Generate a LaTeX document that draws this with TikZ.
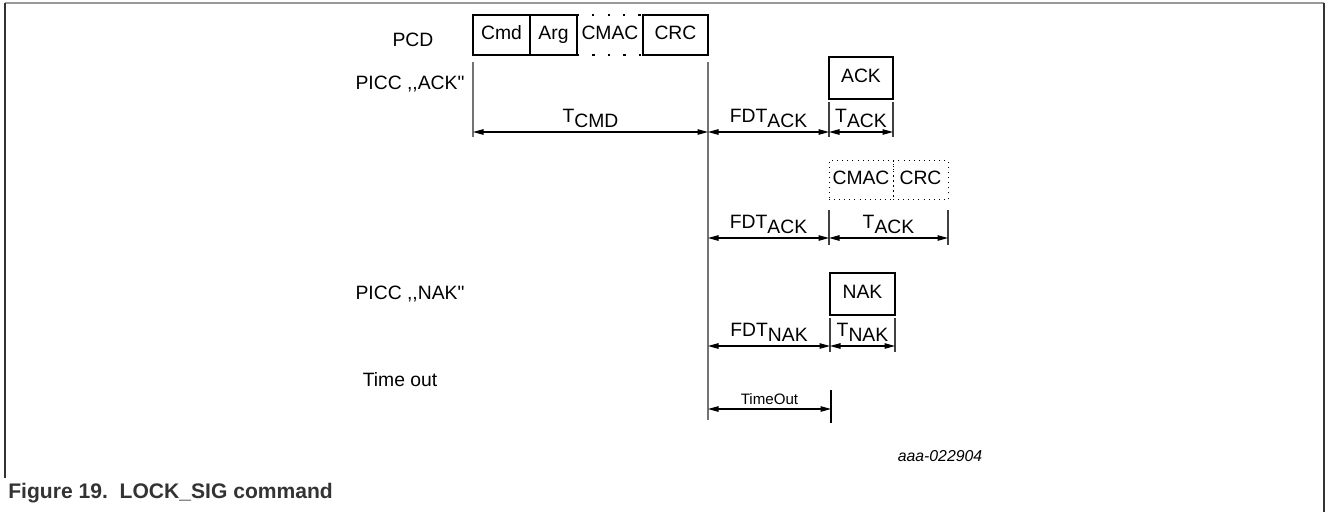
\documentclass[tikz,border=0pt]{standalone}
\usepackage{fontspec}
\setmainfont{Liberation Sans}
\newfontfamily\rawfont{Liberation Sans}
\usetikzlibrary{arrows.meta,positioning}
\newcommand{\lowsub}[1]{\raisebox{-0.55ex}{#1}}

\begin{document}
\begin{tikzpicture}[
  x=0.02cm, y=-0.02cm,
  font=\fontsize{11}{13}\selectfont,
  frm/.style={draw, line width=1.1pt, minimum height=0.8cm, inner sep=0pt, outer sep=0pt,
              text height=0.7em, text depth=0.22em},
  dotfrm/.style={draw, line width=1.3pt, dash pattern=on 1.3pt off 7.5pt,
                 minimum height=0.8cm, inner sep=0pt, outer sep=0pt,
                 text height=0.7em, text depth=0.22em},
  fine/.style={draw, line width=0.5pt, dash pattern=on 0.5pt off 2.4pt,
               minimum height=0.78cm, inner sep=0pt, outer sep=0pt,
               text height=0.7em, text depth=0.22em},
  dim/.style={{Triangle[length=2.1mm,width=1.1mm]}-{Triangle[length=2.1mm,width=1.1mm]}, line width=0.6pt},
  tick/.style={line width=0.6pt, black!75},
  lbl/.style={above=0pt, inner sep=2pt},
]
\useasboundingbox (0,0) rectangle (1326,512);

% ---- frame ----------------------------------------------------------------
\draw[black!40, line width=0.8pt] (5,3) -- (1324,3);
\draw[black!80, line width=0.7pt] (5,3) -- (5,478);
\draw[black!80, line width=0.7pt] (1324,3) -- (1324,512);

% ---- row labels -----------------------------------------------------------
\node (pcd)  at (413,40)  {PCD};
\node (pack) at (410,84)  {\rawfont PICC ,,ACK"};
\node (pnak) at (410,294) {\rawfont PICC ,,NAK"};
\node (tout) at (400,380) {Time out};

% ---- PCD frame ------------------------------------------------------------
\node[frm, anchor=west, minimum width=1.14cm] (cmd)  at (473,35) {Cmd};
\node[frm, right=0pt of cmd, minimum width=0.94cm]  (arg)  {Arg};
\node[dotfrm, right=0pt of arg, minimum width=1.32cm] (cmac) {CMAC};
\node[frm, right=0pt of cmac, minimum width=1.30cm] (crc)  {CRC};

% ---- PICC answers ---------------------------------------------------------
\node[frm, anchor=west, minimum width=1.28cm, minimum height=0.84cm] (ack) at (829,78) {ACK};
\node[fine, anchor=west, minimum width=1.28cm] (rmac) at (829,180) {CMAC};
\node[fine, right=0pt of rmac, minimum width=1.10cm] (rcrc) {CRC};
\node[frm, anchor=west, minimum width=1.30cm, minimum height=0.84cm] (nak) at (830,294) {NAK};

% ---- time marks -----------------------------------------------------------
\coordinate (s0) at (473,62);  \coordinate (s1) at (473,137);
\coordinate (e0) at (708,62);  \coordinate (e1) at (708,420);
\coordinate (a0) at (829,102); \coordinate (a1) at (829,137);
\coordinate (b0) at (893,102); \coordinate (b1) at (893,137);
\coordinate (c0) at (829,210); \coordinate (c1) at (829,245);
\coordinate (d0) at (948,210); \coordinate (d1) at (948,245);
\coordinate (f0) at (830,318); \coordinate (f1) at (830,352);
\coordinate (g0) at (895,318); \coordinate (g1) at (895,352);
\coordinate (h0) at (831,390); \coordinate (h1) at (831,423);

\draw[tick, black!55] (s0) -- (s1);
\draw[tick, black!55] (e0) -- (e1);
\foreach \p in {a,b,c,d,f,g} \draw[tick] (\p0) -- (\p1);
\draw[line width=1.1pt] (h0) -- (h1);

% ---- durations ------------------------------------------------------------
\draw[dim] (473,132) -- node[lbl] {T\lowsub{CMD}} (708,132);
\draw[dim] (708,132) -- node[lbl] {FDT\lowsub{ACK}} (829,132);
\draw[dim] (829,132) -- node[lbl] {T\lowsub{ACK}} (893,132);

\draw[dim] (708,238) -- node[lbl] {FDT\lowsub{ACK}} (829,238);
\draw[dim] (829,238) -- node[lbl] {T\lowsub{ACK}} (948,238);

\draw[dim] (708,346) -- node[lbl] {FDT\lowsub{NAK}} (830,346);
\draw[dim] (830,346) -- node[lbl] {T\lowsub{NAK}} (895,346);

\draw[dim] (708,409) -- node[lbl, font=\fontsize{8.6}{10}\selectfont] {TimeOut} (831,409);

% ---- tags -----------------------------------------------------------------
\node[font=\fontsize{9}{11}\selectfont\itshape] (tag) at (940,456) {aaa-022904};
\node[anchor=west, inner sep=0pt, text=black!80,
      font=\fontsize{12}{14}\selectfont\bfseries] (cap) at (8,493)
  {Figure 19.\ \ LOCK\_SIG command};

\end{tikzpicture}
\end{document}
